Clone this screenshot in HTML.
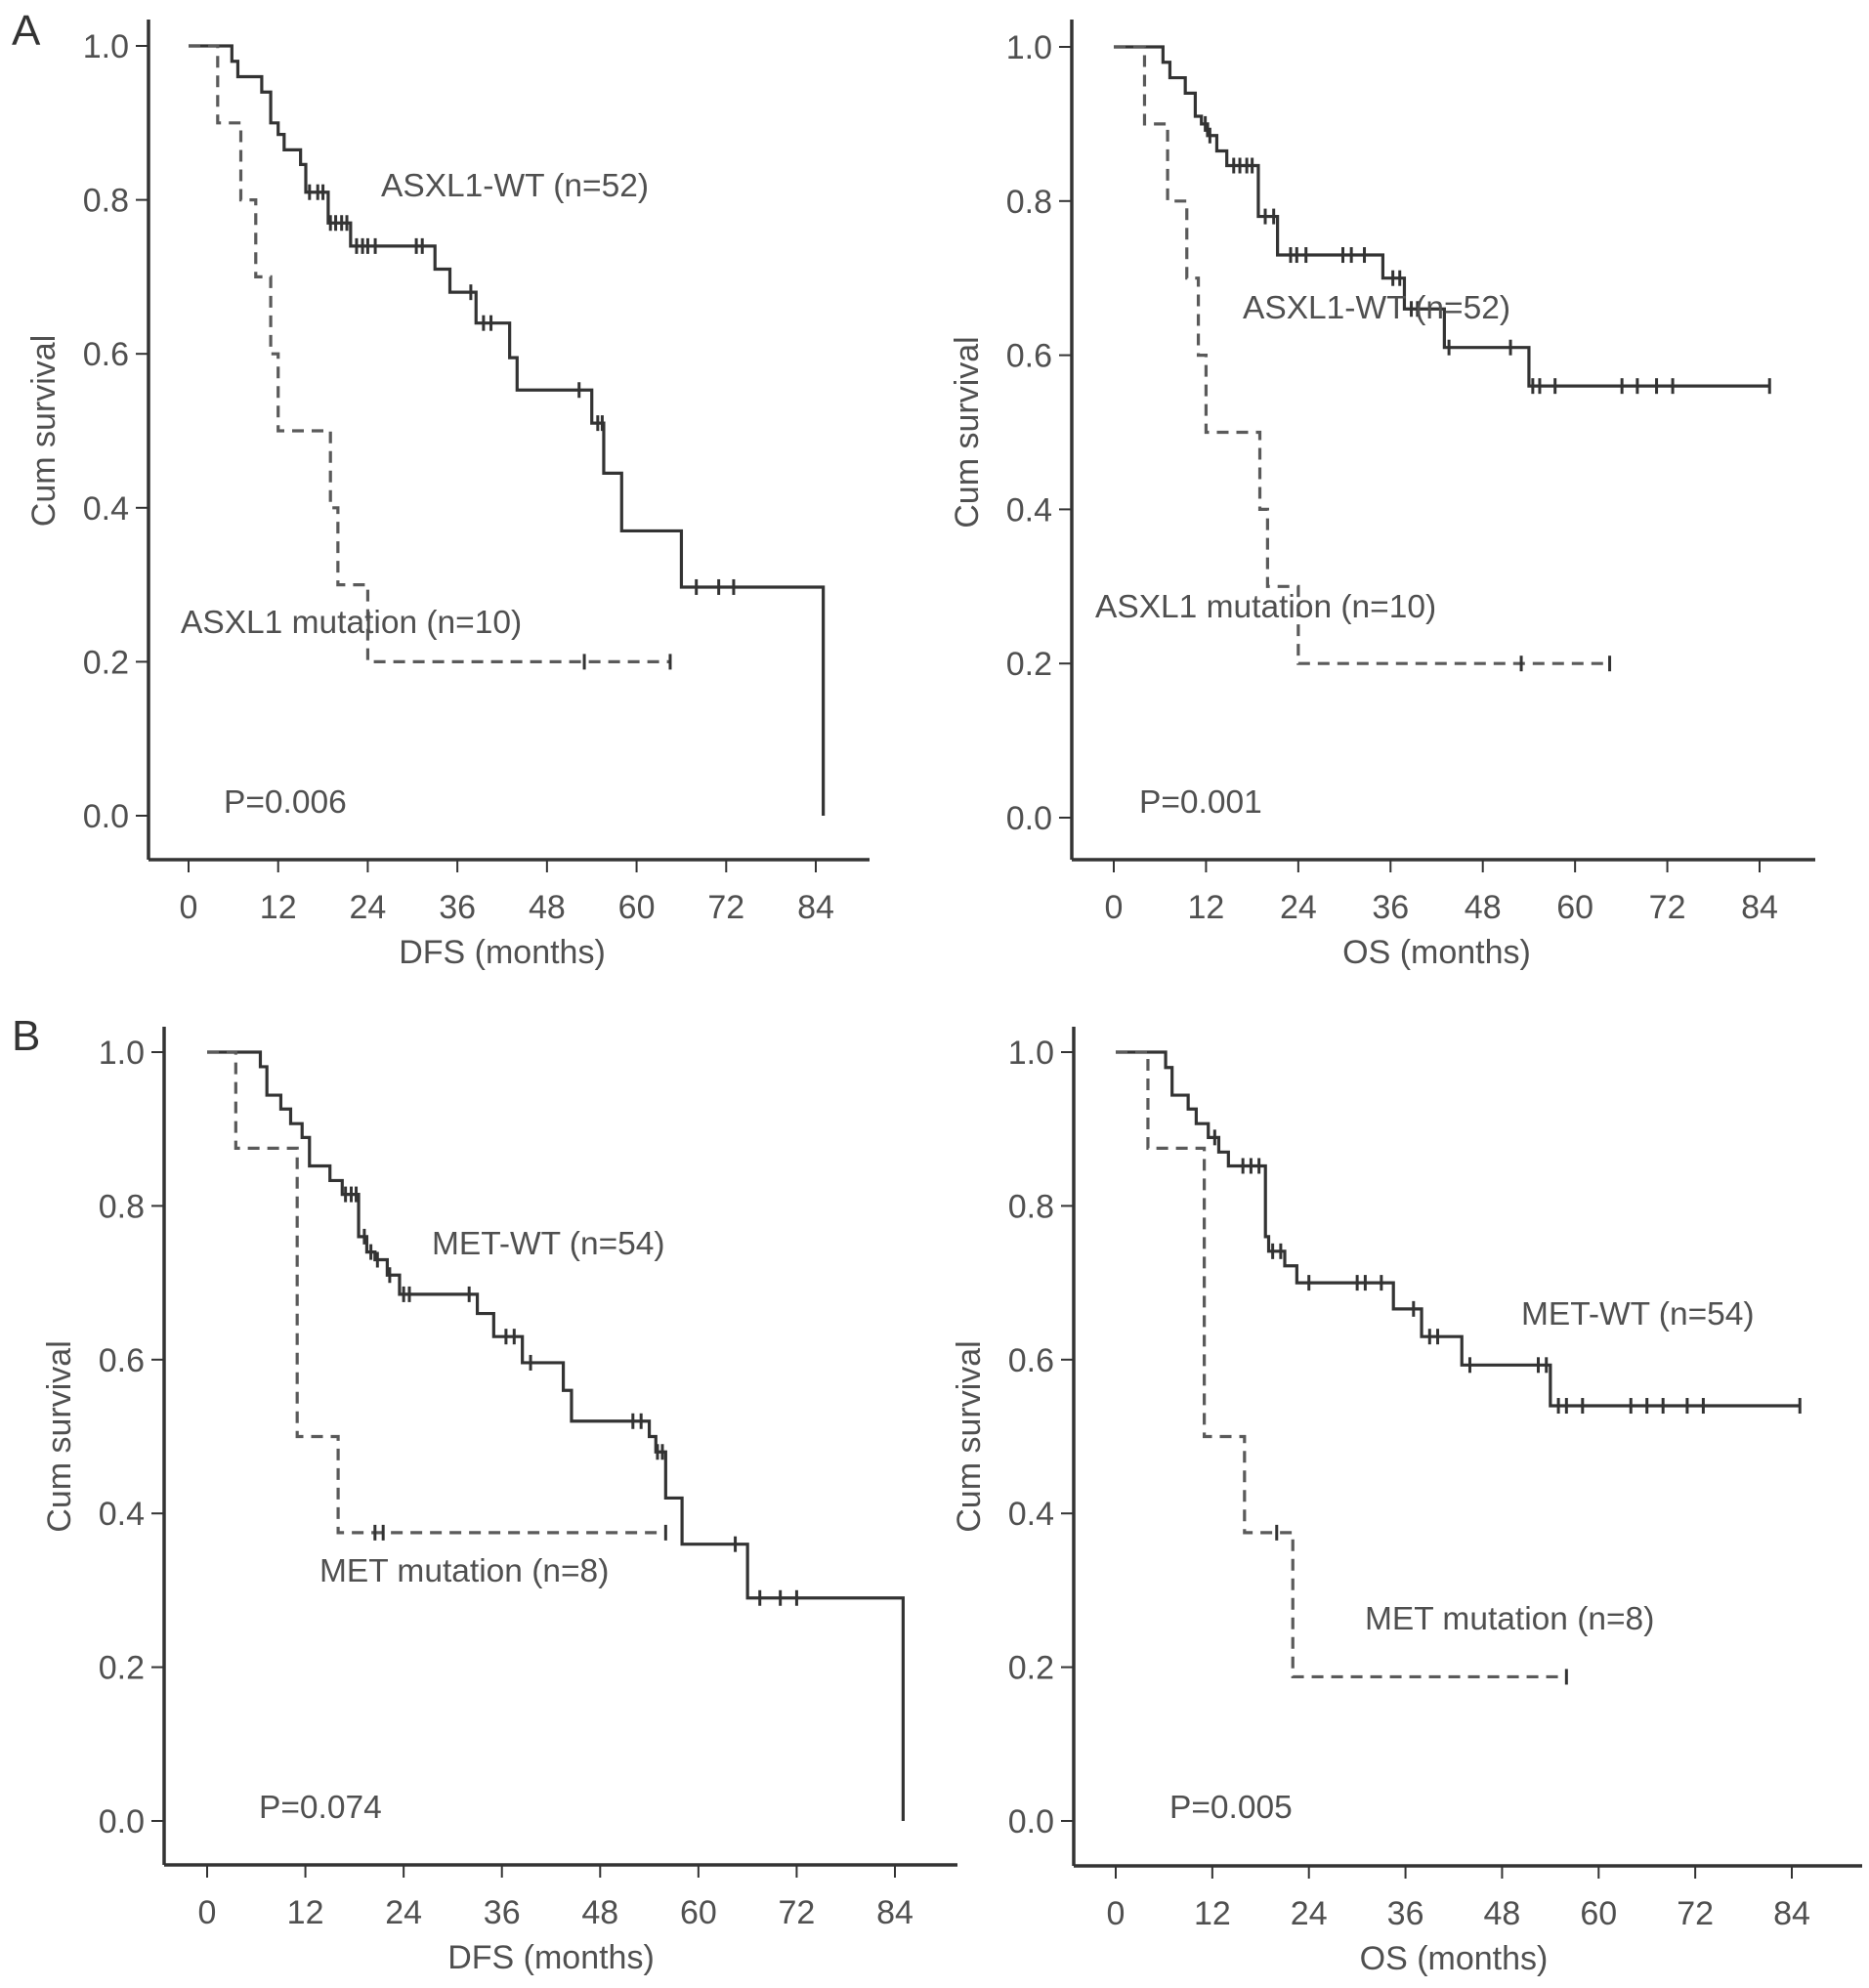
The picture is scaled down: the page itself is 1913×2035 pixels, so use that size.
<!DOCTYPE html>
<html><head><meta charset="utf-8"><style>
html,body{margin:0;padding:0;background:#fff;}
svg{display:block;font-family:"Liberation Sans",Arial,sans-serif;}
</style></head><body>
<svg id="fig" width="1913" height="2035" viewBox="0 0 1913 2035" xmlns="http://www.w3.org/2000/svg"></svg>
<script>
// ---- data ----
const xTicks = [0,12,24,36,48,60,72,84];
const yTicks = [0.0,0.2,0.4,0.6,0.8,1.0];
const yTickLabels = ["0.0","0.2","0.4","0.6","0.8","1.0"];

// Panel A DFS
const aDfsWtTimes = [5.8,6.6,9.8,11,12,12.8,15,15.7,18.7,21.7,33,35,38.5,43,44,54,55.6,58,66,85];
const aDfsWtSurv  = [0.98,0.96,0.94,0.90,0.885,0.865,0.846,0.81,0.77,0.74,0.71,0.68,0.64,0.595,0.553,0.51,0.445,0.37,0.297,0];
const aDfsWtCensT = [16.2,17.3,18,19,19.7,20.5,21.2,22.5,23.3,24,25,30.5,31.3,37.8,39.5,40.5,52.3,54.8,55.4,68,71,73];
const aDfsMutTimes = [3.9,7,9,11,12,19,20,24];
const aDfsMutSurv  = [0.9,0.8,0.7,0.6,0.5,0.4,0.3,0.2];
const aDfsMutCensT = [53,64.5];
const aDfsMutEnd = 64.5;
const aDfsWtEnd = 85;

// Panel A OS
const aOsWtTimes = [6.4,7.3,9.3,10.6,11.4,12.2,13.4,14.7,18.8,21.3,35,37.8,43,54];
const aOsWtSurv  = [0.98,0.96,0.94,0.91,0.90,0.885,0.865,0.846,0.78,0.73,0.70,0.66,0.61,0.56];
const aOsWtCensT = [11.9,12.5,15.6,16.4,17.3,18,19.7,20.8,23,23.8,25,29.8,30.9,32.6,36.3,37.2,38.7,39.5,43.6,51.6,54.5,55.4,57.4,66.1,68.1,70.6,72.7,85.3];
const aOsMutTimes = [4,7,9.5,11,12,19,20,24];
const aOsMutSurv  = [0.9,0.8,0.7,0.6,0.5,0.4,0.3,0.2];
const aOsMutCensT = [53,64.5];
const aOsMutEnd = 64.5;
const aOsWtEnd = 85.3;

// Panel B DFS
const bDfsWtTimes = [6.5,7.3,9,10.2,11.6,12.5,15,16.5,18.5,19.5,20.5,22,23.5,33,35,38.5,43.5,44.5,54,54.8,56,58,66,85];
const bDfsWtSurv  = [0.981,0.944,0.926,0.907,0.889,0.852,0.833,0.815,0.76,0.74,0.73,0.71,0.685,0.66,0.63,0.596,0.56,0.52,0.50,0.48,0.42,0.36,0.29,0];
const bDfsWtCensT = [16.9,17.6,18.2,19.2,20,20.8,22.3,24,24.7,32,36.5,37.5,39.5,52,53,55,55.6,64.5,67.5,70,72];
const bDfsMutTimes = [3.5,11,16];
const bDfsMutSurv  = [0.875,0.5,0.375];
const bDfsMutCensT = [20.5,21.5,56];
const bDfsMutEnd = 56;
const bDfsWtEnd = 85;

// Panel B OS
const bOsWtTimes = [6.2,7,9,10,11.5,12.8,14,18.6,19,21,22.5,34.5,38,43,54];
const bOsWtSurv  = [0.98,0.944,0.926,0.907,0.889,0.87,0.852,0.76,0.741,0.722,0.70,0.666,0.63,0.593,0.54];
const bOsWtCensT = [12.3,15.8,16.8,17.8,19.5,20.5,24,30,31,33,37,39,40,44,52.5,53.5,55,56,58,64,66,68,71,73,85];
const bOsMutTimes = [4,11,16,22];
const bOsMutSurv  = [0.875,0.5,0.375,0.1875];
const bOsMutCensT = [20,56];
const bOsMutEnd = 56;
const bOsWtEnd = 85;

// ---- drawing ----
const NS = "http://www.w3.org/2000/svg";
const svg = document.getElementById('fig');
const INK = "#333", TXT = "#505050";

function mk(tag, attrs, parent){
  const e = document.createElementNS(NS, tag);
  for (const k in attrs) e.setAttribute(k, attrs[k]);
  (parent||svg).appendChild(e);
  return e;
}
function stepOf(times, surv, t){
  let s = 1;
  for (let i=0;i<times.length;i++){ if (times[i] <= t) s = surv[i]; }
  return s;
}

function panel(p){
  const g = mk('g', {});
  
  
  const X = t => p.x0 + (t/84)*(p.x84 - p.x0);
  const Y = v => p.y0 - v*(p.y0 - p.y1);

  const ya = mk('line', {x1:p.ax, y1:p.axTop, x2:p.ax, y2:p.ay, stroke:INK, 'stroke-width':3.5}, g);
  
  
  const xa = mk('line', {x1:p.ax, y1:p.ay, x2:p.axRight, y2:p.ay, stroke:INK, 'stroke-width':3.5}, g);
  
  

  yTicks.forEach((v,i)=>{
    const tk = mk('line', {x1:p.ax-13, y1:Y(v), x2:p.ax, y2:Y(v), stroke:INK, 'stroke-width':2}, g);
    
    
    const tl = mk('text', {x:p.ax-20, y:Y(v)+12, 'text-anchor':'end', 'font-size':34, fill:TXT}, g);
    tl.textContent = yTickLabels[i];
    
    
  });
  xTicks.forEach(t=>{
    const tk = mk('line', {x1:X(t), y1:p.ay, x2:X(t), y2:p.ay+13, stroke:INK, 'stroke-width':2}, g);
    
    
    const tl = mk('text', {x:X(t), y:p.ay+60, 'text-anchor':'middle', 'font-size':34, fill:TXT}, g);
    tl.textContent = String(t);
    
    
  });
  const xt = mk('text', {x:(p.x0+p.x84)/2, y:p.ay+106, 'text-anchor':'middle', 'font-size':34, fill:TXT}, g);
  xt.textContent = p.xTitle;
  
  
  const ytx = p.ax-96, yty = (p.y0+p.y1)/2;
  const yt = mk('text', {x:ytx, y:yty, 'text-anchor':'middle', 'font-size':34, fill:TXT, transform:`rotate(-90 ${ytx} ${yty})`}, g);
  yt.textContent = 'Cum survival';
  
  

  function curve(times, surv, end, cens, dashed, nm){
    let d = `M${X(0)},${Y(1)}`;
    for (let i=0;i<times.length;i++){
      if (times[i] > end) break;
      d += ` H${X(times[i])} V${Y(surv[i])}`;
    }
    d += ` H${X(end)}`;
    const path = mk('path', {d, fill:'none', stroke: dashed ? '#5a5a5a' : INK, 'stroke-width':3.2, 'stroke-dasharray': dashed ? '12 8' : 'none'}, g);
    
    
    cens.forEach(t=>{
      const v = stepOf(times, surv, t);
      const c = mk('line', {x1:X(t), y1:Y(v)-8, x2:X(t), y2:Y(v)+8, stroke:INK, 'stroke-width':3}, g);
      
      
    });
  }
  curve(p.wtT, p.wtS, p.wtEnd, p.wtC, false, 'wild-type');
  curve(p.muT, p.muS, p.muEnd, p.muC, true, 'mutation');

  p.labels.forEach(l=>{
    const t = mk('text', {x:l[0], y:l[1], 'font-size':33.5, fill:TXT}, g);
    t.textContent = l[2];
    
    
  });
}

panel({name:'panel-a-dfs', ax:152, axTop:20, ay:880, axRight:890, x0:193, x84:835, y0:835, y1:47,
  xTitle:'DFS (months)', wtT:aDfsWtTimes, wtS:aDfsWtSurv, wtEnd:aDfsWtEnd, wtC:aDfsWtCensT,
  muT:aDfsMutTimes, muS:aDfsMutSurv, muEnd:aDfsMutEnd, muC:aDfsMutCensT,
  labels:[[390,201,'ASXL1-WT (n=52)','wild-type-label'],[185,648,'ASXL1 mutation (n=10)','mutation-label'],[229,832,'P=0.006','p-value']]});
panel({name:'panel-a-os', ax:1097, axTop:20, ay:880, axRight:1858, x0:1140, x84:1801, y0:837, y1:48,
  xTitle:'OS (months)', wtT:aOsWtTimes, wtS:aOsWtSurv, wtEnd:aOsWtEnd, wtC:aOsWtCensT,
  muT:aOsMutTimes, muS:aOsMutSurv, muEnd:aOsMutEnd, muC:aOsMutCensT,
  labels:[[1272,326,'ASXL1-WT (n=52)','wild-type-label'],[1121,632,'ASXL1 mutation (n=10)','mutation-label'],[1166,832,'P=0.001','p-value']]});
panel({name:'panel-b-dfs', ax:168, axTop:1051, ay:1909, axRight:980, x0:212, x84:916, y0:1864, y1:1077,
  xTitle:'DFS (months)', wtT:bDfsWtTimes, wtS:bDfsWtSurv, wtEnd:bDfsWtEnd, wtC:bDfsWtCensT,
  muT:bDfsMutTimes, muS:bDfsMutSurv, muEnd:bDfsMutEnd, muC:bDfsMutCensT,
  labels:[[442,1284,'MET-WT (n=54)','wild-type-label'],[327,1619,'MET mutation (n=8)','mutation-label'],[265,1861,'P=0.074','p-value']]});
panel({name:'panel-b-os', ax:1099, axTop:1051, ay:1910, axRight:1906, x0:1142, x84:1834, y0:1864, y1:1077,
  xTitle:'OS (months)', wtT:bOsWtTimes, wtS:bOsWtSurv, wtEnd:bOsWtEnd, wtC:bOsWtCensT,
  muT:bOsMutTimes, muS:bOsMutSurv, muEnd:bOsMutEnd, muC:bOsMutCensT,
  labels:[[1557,1356,'MET-WT (n=54)','wild-type-label'],[1397,1668,'MET mutation (n=8)','mutation-label'],[1197,1861,'P=0.005','p-value']]});

const la = mk('text', {x:12, y:46, 'font-size':44, fill:'#333'});
la.textContent = 'A';


const lb = mk('text', {x:12, y:1075, 'font-size':44, fill:'#333'});
lb.textContent = 'B';


</script>
</body></html>
